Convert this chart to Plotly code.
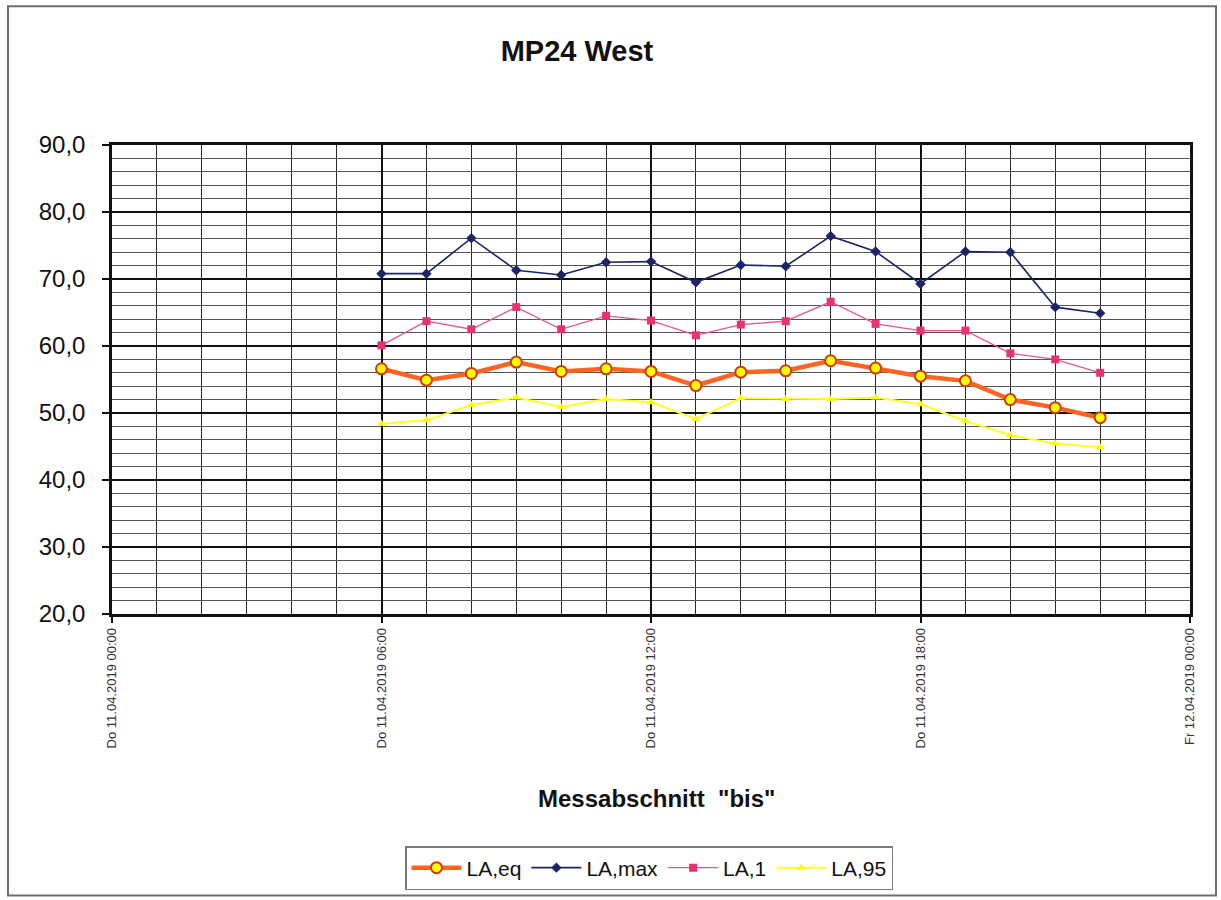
import plotly.graph_objects as go

# ---- data ----
times = [
    "2019-04-11 06:00", "2019-04-11 07:00", "2019-04-11 08:00", "2019-04-11 09:00",
    "2019-04-11 10:00", "2019-04-11 11:00", "2019-04-11 12:00", "2019-04-11 13:00",
    "2019-04-11 14:00", "2019-04-11 15:00", "2019-04-11 16:00", "2019-04-11 17:00",
    "2019-04-11 18:00", "2019-04-11 19:00", "2019-04-11 20:00", "2019-04-11 21:00",
    "2019-04-11 22:00",
]
la_eq = [56.6, 54.9, 55.9, 57.6, 56.2, 56.6, 56.2, 54.1, 56.1, 56.3, 57.8, 56.7, 55.5, 54.8, 52.0, 50.8, 49.3]
la_max = [70.8, 70.8, 76.1, 71.3, 70.6, 72.5, 72.6, 69.5, 72.1, 71.9, 76.4, 74.1, 69.3, 74.1, 74.0, 65.8, 64.9]
la_1 = [60.1, 63.7, 62.5, 65.8, 62.5, 64.5, 63.8, 61.6, 63.2, 63.7, 66.6, 63.3, 62.3, 62.3, 58.9, 58.0, 56.0]
la_95 = [48.4, 48.9, 51.2, 52.3, 50.9, 52.1, 51.6, 49.1, 52.2, 52.1, 52.1, 52.3, 51.3, 48.8, 46.7, 45.4, 44.9]

tick_vals = ["2019-04-11 00:00", "2019-04-11 06:00", "2019-04-11 12:00",
             "2019-04-11 18:00", "2019-04-12 00:00"]
tick_text = ["Do 11.04.2019 00:00", "Do 11.04.2019 06:00", "Do 11.04.2019 12:00",
             "Do 11.04.2019 18:00", "Fr 12.04.2019 00:00"]

title_text = "MP24 West"
x_title = "Messabschnitt  \"bis\""

FONT = "Arial, Liberation Sans, sans-serif"

fig = go.Figure()
fig.add_trace(go.Scatter(
    x=times, y=la_eq, name="LA,eq", mode="lines+markers",
    line=dict(color="#FF6422", width=4.5),
    marker=dict(symbol="circle", size=11, color="#FFFF00",
                line=dict(color="#D23A0A", width=2)),
))
fig.add_trace(go.Scatter(
    x=times, y=la_max, name="LA,max", mode="lines+markers",
    line=dict(color="#1B2568", width=1.6),
    marker=dict(symbol="diamond", size=8, color="#1B2568"),
))
fig.add_trace(go.Scatter(
    x=times, y=la_1, name="LA,1", mode="lines+markers",
    line=dict(color="#E8558A", width=1.3),
    marker=dict(symbol="square", size=8, color="#E8336F"),
))
fig.add_trace(go.Scatter(
    x=times, y=la_95, name="LA,95", mode="lines+markers",
    line=dict(color="#FFFF2A", width=2),
    marker=dict(symbol="triangle-up", size=8, color="#FFFF00"),
))

L, R, T, B = 112, 31, 145, 285
PW = 1221 - L - R
PH = 900 - T - B

def px_x(p):
    return (p - L) / PW

def px_y(p):
    return (900 - B - p) / PH

fig.update_layout(
    width=1221, height=900,
    margin=dict(l=L, r=R, t=T, b=B),
    paper_bgcolor="white", plot_bgcolor="white",
    separators=",.",
    font=dict(family=FONT, color="#111111"),
    title=dict(text="<b>%s</b>" % title_text, x=577 / 1221, xanchor="center",
               xref="container", y=1 - 51 / 900, yanchor="middle", yref="container",
               font=dict(size=29, family=FONT, color="#111111")),
    showlegend=True,
    legend=dict(orientation="h", x=px_x(405), y=px_y(846), xanchor="left", yanchor="top",
                bordercolor="#7a7a7a", borderwidth=1.5, bgcolor="white",
                font=dict(size=21, family=FONT, color="#111111"),
                itemwidth=50, tracegroupgap=0),
    xaxis=dict(
        type="date", range=["2019-04-11 00:00", "2019-04-12 00:00"],
        tickmode="array", tickvals=tick_vals, ticktext=tick_text,
        tickangle=-90, tickfont=dict(size=13, family=FONT, color="#333333"),
        ticks="outside", ticklen=6, tickcolor="#111111", tickwidth=1.5,
        showgrid=True, gridcolor="#111111", gridwidth=2,
        minor=dict(tickmode="linear", tick0="2019-04-11 00:00", dtick=3600000,
                   showgrid=True, gridcolor="#2a2a2a", gridwidth=1.2, ticks=""),
        showline=True, linecolor="#111111", linewidth=2.5, mirror=True,
        zeroline=False,
    ),
    yaxis=dict(
        range=[20, 90], tickmode="linear", tick0=20, dtick=10, tickformat=".1f",
        tickfont=dict(size=24, family=FONT, color="#111111"),
        ticks="outside", ticklen=7, tickcolor="#111111", tickwidth=1.5,
        ticklabelstandoff=12,
        showgrid=True, gridcolor="#111111", gridwidth=2,
        minor=dict(tickmode="linear", tick0=20, dtick=2,
                   showgrid=True, gridcolor="#555555", gridwidth=1, ticks=""),
        showline=True, linecolor="#111111", linewidth=2.5, mirror=True,
        zeroline=False,
    ),
)

fig.add_annotation(
    text="<b>%s</b>" % x_title, xref="paper", yref="paper",
    x=px_x(656), y=px_y(800), xanchor="center", yanchor="middle",
    showarrow=False, font=dict(size=24, family=FONT, color="#111111"),
)

# outer chart frame
fig.add_shape(type="rect", xref="paper", yref="paper",
              x0=px_x(8), x1=px_x(1216), y0=px_y(897), y1=px_y(6),
              line=dict(color="#6e6e6e", width=2), layer="below")

fig.write_html("out.html", config={"displayModeBar": False},
               post_script="document.body.style.margin='0';")
